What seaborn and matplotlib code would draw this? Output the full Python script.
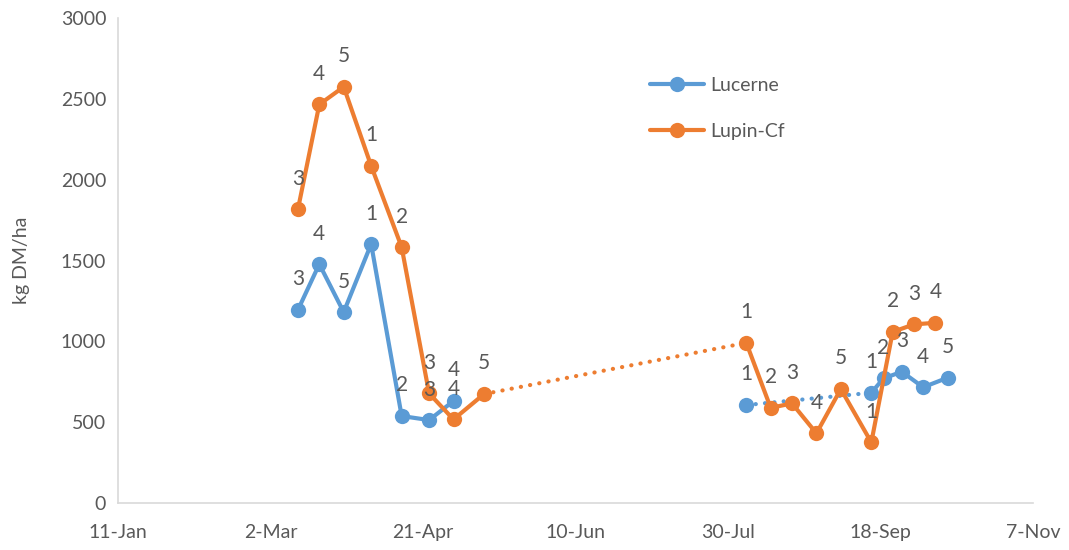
import pandas as pd
import numpy as np
import seaborn as sns
import matplotlib.pyplot as plt

# values
luc_dates = ['2015-03-11', '2015-03-18', '2015-03-26', '2015-04-04', '2015-04-14',
             '2015-04-23', '2015-05-01',
             '2015-08-05', '2015-09-15', '2015-09-19', '2015-09-25', '2015-10-02', '2015-10-10']
luc_vals = [1195, 1478, 1181, 1602, 538, 513, 631,
            606, 682, 771, 812, 716, 775]
luc_labels = ['3', '4', '5', '1', '2', '3', '4',
              '1', '1', '2', '3', '4', '5']
luc_segment = [0, 0, 0, 0, 0, 0, 0, 1, 2, 2, 2, 2, 2]

lup_dates = ['2015-03-11', '2015-03-18', '2015-03-26', '2015-04-04', '2015-04-14',
             '2015-04-23', '2015-05-01', '2015-05-11',
             '2015-08-05', '2015-08-13', '2015-08-20', '2015-08-28', '2015-09-05',
             '2015-09-15', '2015-09-22', '2015-09-29', '2015-10-06']
lup_vals = [1818, 2466, 2575, 2086, 1583, 678, 517, 674,
            991, 589, 616, 431, 705, 375, 1059, 1105, 1115]
lup_labels = ['3', '4', '5', '1', '2', '3', '4', '5',
              '1', '2', '3', '4', '5', '1', '2', '3', '4']
lup_segment = [0] * 8 + [2] * 9

x_ticks = ['2015-01-11', '2015-03-02', '2015-04-21', '2015-06-10',
           '2015-07-30', '2015-09-18', '2015-11-07']
y_ticks = [0, 500, 1000, 1500, 2000, 2500, 3000]

blue = '#5B9BD5'
orange = '#ED7D31'
grey = '#595959'

sns.set_style('white')
plt.rcParams['font.family'] = ['Lato', 'DejaVu Sans']

luc = pd.DataFrame({'date': pd.to_datetime(luc_dates), 'kg': luc_vals,
                    'lab': luc_labels, 'seg': luc_segment})
lup = pd.DataFrame({'date': pd.to_datetime(lup_dates), 'kg': lup_vals,
                    'lab': lup_labels, 'seg': lup_segment})

fig = plt.figure(figsize=(10.69, 5.5), dpi=100)
ax = fig.add_axes([0.1104, 0.0855, 0.8559, 0.8815])

dot_style = dict(linestyle=(0, (0.05, 2.2)), linewidth=3, dash_capstyle='round')

# dotted connectors across the summer gap
luc_gap = luc.iloc[[7, 8]]
sns.lineplot(data=luc_gap, x='date', y='kg', color=blue, ax=ax, **dot_style)
lup_gap = lup.iloc[[7, 8]]
sns.lineplot(data=lup_gap, x='date', y='kg', color=orange, ax=ax, **dot_style)

for df, col, name in [(luc, blue, 'Lucerne'), (lup, orange, 'Lupin-Cf')]:
    first = True
    for seg, part in df.groupby('seg'):
        sns.lineplot(data=part, x='date', y='kg', color=col, ax=ax,
                     marker='o', markersize=11, markeredgewidth=0, linewidth=3,
                     label=name if first else None, sort=False)
        first = False
    for d, v, t in zip(df['date'], df['kg'], df['lab']):
        ax.annotate(t, (d, v), xytext=(0, 22), textcoords='offset points',
                    ha='center', va='center', fontsize=15, color=grey)

ax.set_xlim(pd.Timestamp(x_ticks[0]), pd.Timestamp(x_ticks[-1]))
ax.set_ylim(0, 3000)
ax.set_xticks(pd.to_datetime(x_ticks))
ax.set_xticklabels([f"{d.day}-{d.strftime('%b')}" for d in pd.to_datetime(x_ticks)])
ax.set_yticks(y_ticks)
ax.set_xlabel('')
ax.set_ylabel('kg DM/ha', fontsize=14, color=grey, labelpad=22)
ax.tick_params(axis='both', labelsize=14, colors=grey, length=5, color='#d9d9d9')
ax.tick_params(axis='x', pad=10)

sns.despine(ax=ax)
for s in ['left', 'bottom']:
    ax.spines[s].set_color('#d9d9d9')
    ax.spines[s].set_linewidth(1.2)

leg = ax.legend(loc='upper left', bbox_to_anchor=(0.562, 0.915), frameon=False,
                fontsize=14, labelspacing=1.5, handlelength=2.8, handletextpad=0.3)
for t in leg.get_texts():
    t.set_color(grey)

fig.savefig('out.png', dpi=100)
